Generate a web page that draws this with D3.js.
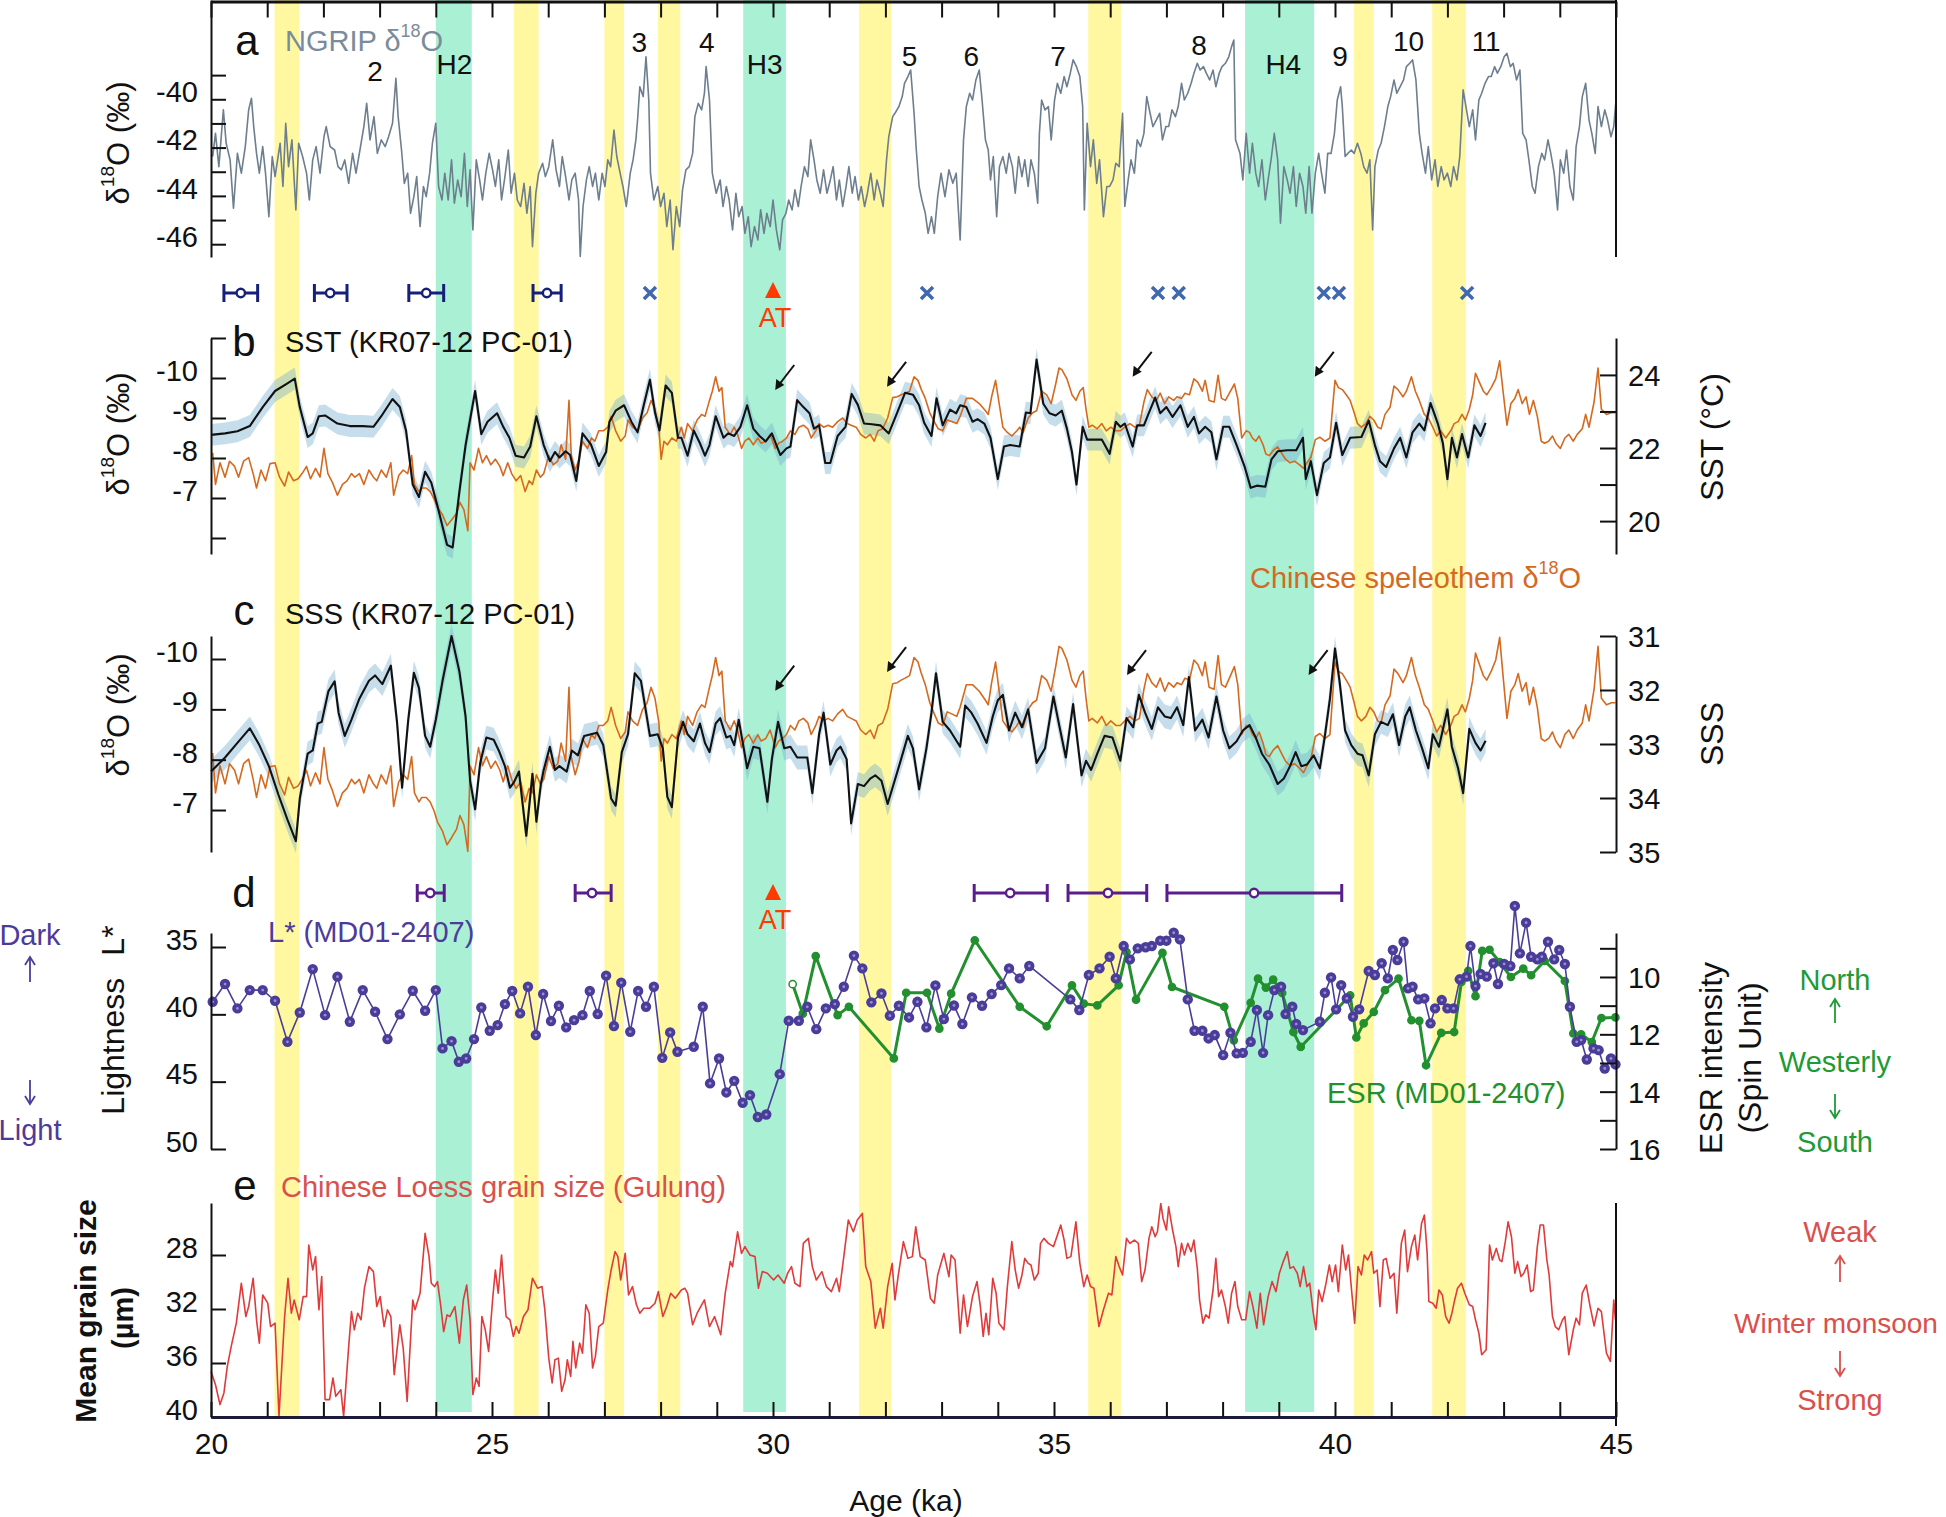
<!DOCTYPE html>
<html><head><meta charset="utf-8">
<script src="https://cdn.jsdelivr.net/npm/d3@7"></script>
<style>
body{margin:0;background:#fff;}
svg{display:block;font-family:"Liberation Sans",Arial,Helvetica,sans-serif;}
</style></head><body>
<svg id="chart" width="1946" height="1517"></svg>
<script>
// ---------------- DATA ----------------
const ageDomain = [20, 45];
const yellowBands = [[21.13,21.57],[25.39,25.83],[27.0,27.35],[27.95,28.35],[31.53,32.10],[35.61,36.19],[40.34,40.69],[41.73,42.33]];
const greenBands = [[24.0,24.64],[29.47,30.23],[38.40,39.63]];

// NGRIP d18O (permil)
const ngrip = [[20.03,-42.37],[20.08,-41.41],[20.14,-42.79],[20.22,-40.44],[20.27,-41.82],[20.34,-42.51],[20.40,-44.51],[20.47,-42.24],[20.54,-43.06],[20.61,-41.96],[20.67,-40.44],[20.72,-39.96],[20.76,-41.13],[20.81,-42.24],[20.86,-43.06],[20.92,-41.96],[20.97,-43.06],[21.03,-44.86],[21.09,-42.37],[21.14,-43.20],[21.23,-41.82],[21.28,-43.61],[21.33,-40.99],[21.38,-42.79],[21.44,-41.68],[21.51,-44.58],[21.56,-41.82],[21.63,-42.37],[21.70,-43.06],[21.75,-44.17],[21.81,-42.51],[21.87,-41.96],[21.94,-43.06],[22.01,-41.55],[22.05,-41.13],[22.12,-41.96],[22.20,-42.10],[22.26,-42.79],[22.32,-42.92],[22.38,-42.51],[22.45,-43.48],[22.52,-42.24],[22.58,-43.06],[22.65,-42.10],[22.72,-41.13],[22.77,-40.17],[22.83,-41.68],[22.90,-40.72],[22.96,-42.24],[23.03,-41.68],[23.10,-41.96],[23.16,-41.55],[23.23,-40.99],[23.29,-39.13],[23.33,-40.72],[23.39,-42.10],[23.44,-43.48],[23.50,-43.06],[23.55,-44.72],[23.61,-44.03],[23.66,-43.20],[23.72,-45.27],[23.78,-43.61],[23.83,-44.03],[23.89,-43.06],[23.94,-41.82],[24.00,-40.99],[24.05,-43.61],[24.11,-44.17],[24.16,-43.06],[24.22,-44.17],[24.28,-42.51],[24.33,-44.30],[24.39,-43.34],[24.45,-44.03],[24.51,-42.24],[24.56,-44.44],[24.61,-42.92],[24.66,-45.41],[24.72,-42.51],[24.78,-43.34],[24.83,-44.17],[24.89,-43.06],[24.95,-42.24],[25.01,-42.92],[25.06,-43.61],[25.12,-42.51],[25.17,-44.17],[25.23,-43.20],[25.29,-42.10],[25.34,-43.89],[25.40,-43.06],[25.45,-44.17],[25.51,-44.44],[25.57,-43.48],[25.62,-44.72],[25.68,-43.61],[25.72,-46.10],[25.78,-43.89],[25.83,-43.06],[25.90,-42.65],[25.95,-43.20],[26.01,-42.79],[26.08,-41.68],[26.14,-42.92],[26.20,-43.61],[26.25,-42.37],[26.31,-43.20],[26.37,-44.17],[26.42,-43.34],[26.48,-43.06],[26.54,-44.17],[26.57,-46.51],[26.62,-44.44],[26.68,-43.34],[26.73,-42.79],[26.79,-43.61],[26.84,-43.06],[26.90,-44.17],[26.96,-43.06],[27.01,-43.61],[27.06,-42.51],[27.11,-42.79],[27.17,-41.27],[27.22,-42.37],[27.28,-43.06],[27.33,-43.61],[27.39,-44.44],[27.46,-43.06],[27.51,-42.51],[27.56,-41.68],[27.59,-40.86],[27.63,-39.48],[27.69,-39.89],[27.74,-38.24],[27.79,-40.03],[27.82,-43.06],[27.88,-44.17],[27.95,-43.61],[28.00,-44.44],[28.06,-43.89],[28.11,-45.27],[28.17,-44.17],[28.22,-46.23],[28.28,-44.44],[28.34,-45.27],[28.39,-43.75],[28.45,-42.92],[28.51,-42.79],[28.57,-42.24],[28.61,-40.72],[28.67,-40.17],[28.73,-40.44],[28.78,-39.75],[28.81,-38.65],[28.87,-40.03],[28.92,-43.06],[28.99,-43.89],[29.06,-43.34],[29.11,-44.44],[29.17,-43.61],[29.22,-44.17],[29.28,-45.41],[29.34,-43.89],[29.39,-44.86],[29.45,-44.44],[29.50,-45.55],[29.56,-44.86],[29.61,-46.10],[29.67,-45.27],[29.73,-45.82],[29.78,-44.58],[29.84,-45.55],[29.89,-44.72],[29.95,-45.27],[30.00,-44.17],[30.06,-45.41],[30.12,-46.23],[30.17,-44.99],[30.23,-44.72],[30.28,-44.17],[30.34,-44.58],[30.39,-43.75],[30.45,-44.44],[30.50,-43.61],[30.56,-42.79],[30.62,-43.20],[30.67,-41.68],[30.73,-42.51],[30.78,-43.34],[30.84,-43.89],[30.90,-42.92],[30.96,-43.89],[31.02,-43.34],[31.07,-42.79],[31.13,-44.17],[31.18,-43.34],[31.24,-44.44],[31.30,-43.61],[31.35,-42.79],[31.41,-43.89],[31.46,-43.20],[31.52,-44.17],[31.57,-43.61],[31.63,-44.44],[31.68,-43.89],[31.74,-43.06],[31.80,-44.17],[31.85,-43.34],[31.91,-43.89],[31.96,-44.44],[32.02,-42.51],[32.06,-41.55],[32.13,-40.72],[32.17,-40.58],[32.24,-40.30],[32.30,-39.89],[32.34,-39.34],[32.40,-39.06],[32.45,-38.79],[32.51,-40.58],[32.55,-42.10],[32.60,-43.61],[32.65,-44.17],[32.71,-44.72],[32.76,-45.55],[32.82,-44.86],[32.87,-45.55],[32.93,-44.03],[32.99,-43.06],[33.06,-44.03],[33.13,-42.92],[33.20,-43.48],[33.26,-43.06],[33.33,-45.82],[33.39,-41.68],[33.44,-40.30],[33.50,-39.75],[33.55,-40.03],[33.61,-39.20],[33.67,-38.79],[33.72,-40.03],[33.78,-41.68],[33.83,-42.10],[33.87,-43.34],[33.92,-42.37],[33.98,-44.86],[34.03,-42.79],[34.09,-42.37],[34.15,-43.06],[34.20,-42.24],[34.26,-42.79],[34.31,-43.89],[34.37,-42.37],[34.43,-43.20],[34.48,-42.51],[34.54,-43.61],[34.59,-42.51],[34.65,-43.06],[34.71,-44.30],[34.74,-41.41],[34.78,-40.03],[34.84,-40.44],[34.90,-40.30],[34.95,-41.68],[35.01,-40.03],[35.06,-39.34],[35.12,-39.75],[35.18,-39.06],[35.23,-39.48],[35.29,-38.92],[35.34,-38.37],[35.40,-38.65],[35.46,-39.06],[35.51,-40.30],[35.54,-44.58],[35.59,-40.99],[35.65,-42.79],[35.70,-41.68],[35.76,-43.48],[35.81,-42.51],[35.88,-44.86],[35.94,-43.61],[35.99,-43.61],[36.05,-43.34],[36.10,-42.65],[36.16,-42.79],[36.22,-40.58],[36.26,-44.44],[36.32,-43.34],[36.37,-42.51],[36.43,-43.06],[36.48,-41.68],[36.54,-41.96],[36.60,-41.41],[36.65,-39.89],[36.71,-40.58],[36.76,-41.13],[36.82,-40.86],[36.88,-40.58],[36.93,-41.68],[36.99,-41.13],[37.04,-41.13],[37.10,-40.44],[37.16,-40.72],[37.21,-40.30],[37.27,-39.34],[37.32,-40.03],[37.38,-39.75],[37.44,-39.34],[37.49,-38.92],[37.55,-38.51],[37.60,-38.79],[37.66,-38.65],[37.71,-38.92],[37.77,-39.20],[37.83,-38.79],[37.88,-39.48],[37.94,-38.92],[37.99,-38.65],[38.05,-38.51],[38.11,-38.24],[38.16,-37.82],[38.20,-37.55],[38.23,-41.68],[38.31,-42.24],[38.36,-43.34],[38.42,-41.41],[38.48,-43.06],[38.53,-41.82],[38.59,-43.06],[38.64,-43.61],[38.70,-42.51],[38.76,-44.17],[38.81,-43.34],[38.87,-42.37],[38.92,-41.41],[38.98,-42.51],[39.03,-45.13],[39.09,-42.79],[39.15,-43.34],[39.20,-43.89],[39.26,-42.79],[39.31,-44.44],[39.37,-43.06],[39.43,-43.61],[39.48,-44.72],[39.54,-42.79],[39.59,-44.72],[39.65,-43.06],[39.71,-42.24],[39.76,-43.06],[39.82,-43.89],[39.87,-42.24],[39.93,-42.24],[39.99,-41.41],[40.04,-40.03],[40.10,-39.48],[40.13,-40.30],[40.18,-42.37],[40.23,-42.24],[40.29,-42.10],[40.34,-42.24],[40.40,-41.82],[40.46,-42.24],[40.51,-42.79],[40.57,-43.06],[40.62,-42.51],[40.67,-45.41],[40.71,-42.79],[40.77,-42.10],[40.82,-41.82],[40.88,-41.13],[40.94,-40.30],[40.99,-39.89],[41.05,-39.20],[41.10,-39.75],[41.16,-39.48],[41.22,-39.20],[41.27,-38.65],[41.33,-38.51],[41.38,-38.37],[41.44,-39.20],[41.50,-41.41],[41.55,-42.24],[41.61,-43.06],[41.66,-41.96],[41.72,-43.34],[41.78,-42.51],[41.83,-43.61],[41.89,-42.79],[41.94,-43.34],[42.00,-43.06],[42.06,-43.61],[42.11,-42.79],[42.17,-43.34],[42.22,-42.37],[42.28,-39.61],[42.33,-40.30],[42.39,-41.13],[42.45,-40.44],[42.50,-41.68],[42.56,-40.03],[42.61,-39.75],[42.67,-39.34],[42.73,-39.06],[42.78,-39.06],[42.84,-38.65],[42.89,-38.92],[42.95,-38.65],[43.01,-38.24],[43.06,-38.10],[43.12,-38.65],[43.17,-38.51],[43.23,-39.20],[43.29,-38.79],[43.34,-41.41],[43.40,-41.68],[43.45,-42.51],[43.51,-43.61],[43.56,-43.89],[43.62,-42.79],[43.68,-42.24],[43.73,-42.51],[43.79,-41.68],[43.84,-42.24],[43.90,-43.06],[43.96,-44.58],[44.01,-42.51],[44.07,-43.06],[44.12,-42.10],[44.18,-43.61],[44.24,-44.17],[44.29,-41.96],[44.35,-41.13],[44.40,-39.89],[44.46,-39.34],[44.52,-40.86],[44.57,-41.41],[44.63,-42.24],[44.68,-40.30],[44.74,-41.13],[44.80,-40.44],[44.85,-40.86],[44.91,-41.55],[44.96,-41.13],[45.00,-40.03]];

// Chinese speleothem d18O (permil)
const speleothem = [[20.03,-8.13],[20.08,-7.34],[20.16,-7.88],[20.25,-7.52],[20.33,-7.92],[20.42,-7.79],[20.49,-7.52],[20.58,-7.92],[20.67,-8.01],[20.75,-7.61],[20.81,-7.25],[20.89,-7.70],[20.97,-7.43],[21.05,-7.86],[21.14,-7.88],[21.22,-7.52],[21.31,-7.30],[21.38,-7.65],[21.47,-7.43],[21.55,-7.48],[21.62,-7.61],[21.70,-7.79],[21.77,-7.48],[21.86,-7.74],[21.94,-7.52],[22.01,-8.24],[22.08,-7.61],[22.16,-7.39],[22.25,-7.07],[22.34,-7.34],[22.42,-7.43],[22.50,-7.61],[22.56,-7.52],[22.64,-7.61],[22.72,-7.34],[22.81,-7.70],[22.89,-7.52],[22.95,-7.43],[23.03,-7.70],[23.12,-7.52],[23.20,-7.88],[23.25,-7.07],[23.34,-7.56],[23.42,-7.70],[23.50,-7.61],[23.57,-8.06],[23.62,-7.34],[23.70,-7.16],[23.75,-7.25],[23.83,-7.25],[23.90,-7.16],[23.97,-6.98],[24.03,-6.76],[24.12,-6.58],[24.20,-6.31],[24.28,-6.45],[24.37,-6.62],[24.43,-6.89],[24.50,-6.71],[24.57,-6.18],[24.61,-7.88],[24.68,-7.70],[24.76,-8.24],[24.83,-7.88],[24.90,-8.06],[24.98,-7.83],[25.06,-7.97],[25.14,-7.79],[25.20,-7.56],[25.28,-7.88],[25.35,-7.61],[25.43,-7.43],[25.51,-7.56],[25.59,-7.16],[25.66,-7.43],[25.72,-7.34],[25.79,-7.70],[25.86,-7.52],[25.92,-7.61],[26.01,-8.06],[26.09,-7.83],[26.17,-7.92],[26.23,-8.33],[26.31,-7.97],[26.37,-9.44],[26.41,-8.06],[26.48,-7.70],[26.55,-7.97],[26.61,-8.42],[26.70,-8.24],[26.77,-8.50],[26.83,-8.42],[26.90,-8.68],[26.98,-8.68],[27.06,-8.77],[27.12,-9.04],[27.20,-8.68],[27.29,-8.42],[27.37,-8.55],[27.42,-8.95],[27.50,-8.77],[27.59,-8.68],[27.68,-9.00],[27.76,-9.13],[27.83,-9.44],[27.90,-9.22],[27.97,-8.73],[28.01,-7.97],[28.06,-8.42],[28.12,-8.33],[28.20,-8.50],[28.28,-8.42],[28.37,-8.77],[28.42,-8.50],[28.48,-8.86],[28.57,-8.68],[28.65,-8.95],[28.73,-9.09],[28.79,-9.04],[28.87,-9.44],[28.92,-9.67],[28.98,-10.03],[29.04,-9.67],[29.09,-9.76],[29.15,-8.77],[29.24,-8.59],[29.31,-8.77],[29.37,-8.59],[29.44,-8.24],[29.50,-8.42],[29.57,-8.50],[29.65,-8.33],[29.73,-8.50],[29.79,-8.37],[29.87,-8.42],[29.95,-8.59],[30.04,-8.24],[30.10,-8.37],[30.17,-8.42],[30.24,-8.50],[30.31,-8.68],[30.39,-8.59],[30.46,-8.77],[30.54,-8.82],[30.62,-8.73],[30.68,-8.50],[30.76,-8.68],[30.82,-8.86],[30.90,-8.77],[30.98,-8.82],[31.06,-8.77],[31.15,-8.91],[31.24,-9.00],[31.32,-8.86],[31.39,-8.82],[31.48,-8.77],[31.56,-8.59],[31.65,-8.50],[31.73,-8.59],[31.80,-8.42],[31.87,-8.68],[31.95,-8.73],[32.04,-9.00],[32.13,-9.51],[32.21,-9.53],[32.28,-9.58],[32.35,-9.62],[32.43,-9.67],[32.51,-10.03],[32.58,-9.94],[32.64,-9.71],[32.71,-9.49],[32.79,-9.13],[32.87,-8.91],[32.94,-8.73],[33.02,-8.68],[33.10,-8.95],[33.18,-8.91],[33.27,-8.86],[33.33,-9.04],[33.44,-9.49],[33.55,-9.49],[33.67,-9.36],[33.78,-9.18],[33.83,-9.09],[33.89,-9.53],[33.96,-9.94],[34.02,-9.40],[34.09,-8.77],[34.17,-8.64],[34.25,-8.55],[34.34,-8.68],[34.39,-8.77],[34.45,-8.64],[34.54,-9.00],[34.62,-9.13],[34.69,-9.18],[34.78,-9.67],[34.87,-9.58],[34.95,-9.36],[35.03,-9.85],[35.09,-10.25],[35.14,-10.21],[35.23,-9.98],[35.32,-9.58],[35.39,-9.44],[35.46,-9.67],[35.52,-9.76],[35.57,-9.22],[35.62,-8.77],[35.68,-8.82],[35.77,-8.73],[35.85,-8.86],[35.93,-8.68],[36.01,-8.77],[36.10,-8.68],[36.18,-8.68],[36.26,-8.77],[36.35,-8.86],[36.44,-8.77],[36.52,-8.82],[36.60,-9.40],[36.66,-9.71],[36.74,-9.53],[36.82,-9.44],[36.89,-9.62],[36.97,-9.36],[37.04,-9.53],[37.13,-9.44],[37.19,-9.53],[37.27,-9.49],[37.33,-9.62],[37.41,-9.58],[37.49,-9.98],[37.56,-9.89],[37.64,-9.67],[37.69,-9.94],[37.76,-9.44],[37.85,-9.40],[37.92,-10.07],[37.98,-9.49],[38.05,-9.44],[38.14,-9.67],[38.21,-9.85],[38.27,-9.49],[38.34,-8.50],[38.42,-8.68],[38.48,-8.64],[38.53,-8.50],[38.59,-8.42],[38.65,-8.55],[38.72,-8.33],[38.77,-8.10],[38.83,-8.06],[38.90,-8.19],[38.98,-8.28],[39.06,-8.10],[39.12,-7.97],[39.20,-7.88],[39.28,-7.92],[39.37,-7.83],[39.44,-7.74],[39.50,-7.88],[39.57,-8.01],[39.65,-8.46],[39.73,-8.52],[39.82,-8.42],[39.91,-8.50],[40.00,-9.94],[40.06,-9.76],[40.13,-9.71],[40.20,-9.58],[40.27,-9.44],[40.33,-9.18],[40.40,-8.86],[40.47,-8.77],[40.55,-8.86],[40.62,-9.04],[40.69,-8.95],[40.76,-8.77],[40.82,-8.73],[40.89,-9.09],[40.98,-9.27],[41.05,-9.80],[41.12,-9.71],[41.21,-9.53],[41.27,-9.67],[41.36,-10.03],[41.43,-9.67],[41.50,-9.44],[41.59,-9.09],[41.66,-9.00],[41.74,-8.77],[41.81,-8.55],[41.88,-8.68],[41.97,-8.50],[42.06,-8.68],[42.12,-8.86],[42.19,-8.91],[42.26,-9.09],[42.32,-8.95],[42.39,-9.22],[42.45,-9.58],[42.50,-10.12],[42.57,-9.89],[42.64,-9.67],[42.70,-9.58],[42.78,-9.76],[42.86,-9.98],[42.93,-10.43],[42.99,-9.67],[43.06,-8.82],[43.13,-9.36],[43.20,-9.49],[43.26,-9.71],[43.33,-9.36],[43.40,-9.53],[43.46,-9.09],[43.53,-9.44],[43.60,-9.04],[43.67,-8.42],[43.73,-8.37],[43.80,-8.42],[43.87,-8.55],[43.93,-8.37],[44.01,-8.24],[44.09,-8.50],[44.16,-8.59],[44.24,-8.42],[44.31,-8.59],[44.40,-8.73],[44.46,-9.09],[44.52,-8.77],[44.61,-9.40],[44.68,-10.25],[44.74,-9.22],[44.83,-9.09],[44.92,-9.13],[44.99,-9.13]];

// SST KR07-12 PC-01 (degC)
const sst = [[20.00,22.36],[20.25,22.40],[20.47,22.46],[20.69,22.60],[20.92,23.12],[21.14,23.56],[21.36,23.77],[21.49,23.90],[21.58,23.12],[21.72,22.30],[21.81,22.40],[21.92,22.87],[22.03,22.89],[22.25,22.67],[22.47,22.60],[22.70,22.60],[22.89,22.58],[23.03,22.87],[23.23,23.34],[23.36,23.12],[23.47,22.48],[23.59,21.00],[23.70,20.66],[23.81,21.35],[23.92,21.05],[24.03,20.41],[24.20,19.35],[24.30,19.28],[24.42,20.81],[24.53,22.08],[24.70,23.56],[24.81,22.38],[24.92,22.72],[25.09,22.95],[25.20,22.58],[25.31,22.28],[25.42,21.79],[25.57,21.74],[25.68,22.04],[25.79,22.87],[25.92,22.08],[26.03,21.64],[26.12,21.89],[26.20,21.74],[26.31,21.91],[26.39,21.81],[26.50,21.10],[26.61,22.40],[26.76,22.10],[26.90,21.51],[27.03,21.89],[27.09,22.72],[27.20,23.02],[27.35,23.17],[27.48,22.72],[27.59,22.43],[27.70,23.17],[27.81,23.87],[27.90,22.97],[27.98,22.48],[28.09,23.71],[28.20,23.51],[28.31,22.28],[28.37,22.28],[28.48,21.79],[28.59,22.48],[28.70,22.13],[28.79,21.79],[28.87,22.08],[28.98,22.87],[29.12,22.28],[29.20,22.40],[29.31,22.33],[29.42,22.58],[29.54,23.17],[29.65,22.53],[29.76,22.33],[29.87,22.18],[29.98,22.40],[30.06,22.08],[30.13,21.81],[30.24,21.99],[30.31,22.04],[30.43,23.31],[30.54,23.12],[30.65,22.95],[30.73,22.53],[30.82,22.62],[30.93,21.59],[31.02,21.59],[31.15,22.33],[31.29,22.58],[31.40,23.48],[31.51,23.18],[31.62,22.67],[31.76,22.65],[31.91,22.62],[32.06,22.40],[32.21,22.97],[32.35,23.51],[32.49,23.46],[32.60,23.17],[32.69,22.69],[32.82,22.33],[32.91,23.36],[33.02,22.62],[33.15,23.05],[33.26,22.95],[33.33,23.17],[33.44,23.12],[33.55,22.72],[33.64,22.79],[33.76,22.67],[33.87,22.28],[34.00,21.15],[34.11,22.04],[34.22,22.08],[34.39,22.04],[34.50,22.97],[34.58,22.95],[34.69,24.42],[34.81,23.21],[34.92,22.95],[35.03,22.89],[35.14,23.02],[35.23,22.53],[35.32,21.89],[35.40,21.00],[35.51,22.58],[35.59,22.23],[35.73,22.23],[35.85,22.23],[35.99,21.84],[36.10,22.72],[36.18,22.58],[36.26,22.67],[36.40,22.04],[36.48,22.62],[36.60,22.62],[36.69,22.97],[36.80,23.38],[36.89,22.95],[37.00,23.12],[37.11,22.85],[37.25,23.17],[37.38,22.58],[37.49,22.85],[37.58,22.40],[37.69,22.58],[37.80,22.43],[37.89,21.69],[38.01,22.58],[38.12,22.58],[38.25,22.08],[38.39,21.50],[38.50,20.91],[38.61,20.97],[38.76,20.94],[38.87,21.69],[38.98,21.91],[39.15,21.94],[39.31,21.94],[39.43,22.28],[39.48,21.15],[39.57,21.64],[39.68,20.71],[39.80,21.59],[39.91,21.74],[40.02,22.69],[40.13,21.81],[40.27,22.28],[40.47,22.30],[40.60,22.75],[40.71,22.08],[40.80,21.64],[40.91,21.48],[41.05,21.99],[41.16,22.28],[41.27,21.74],[41.38,22.43],[41.50,22.67],[41.59,22.48],[41.70,23.23],[41.83,22.67],[41.92,22.13],[42.00,21.15],[42.08,22.28],[42.17,21.74],[42.26,22.38],[42.37,21.74],[42.48,22.62],[42.59,22.33],[42.68,22.69]];

// SSS KR07-12 PC-01
const sss = [[20.00,33.51],[20.25,33.25],[20.47,32.98],[20.69,32.71],[20.86,33.02],[21.03,33.41],[21.20,33.94],[21.36,34.40],[21.51,34.80],[21.58,34.01],[21.72,33.18],[21.81,33.12],[21.90,32.62],[21.97,32.59],[22.09,32.02],[22.20,31.84],[22.27,32.42],[22.38,32.85],[22.50,32.55],[22.64,32.16],[22.81,31.83],[22.92,31.73],[23.05,31.89],[23.20,31.55],[23.31,32.59],[23.40,33.81],[23.51,32.55],[23.61,31.68],[23.70,31.96],[23.81,32.85],[23.90,33.05],[24.00,32.55],[24.12,31.83],[24.28,31.00],[24.42,31.66],[24.53,32.49],[24.61,33.68],[24.70,34.21],[24.79,33.35],[24.90,32.88],[25.03,32.92],[25.12,33.12],[25.23,33.41],[25.32,33.81],[25.39,33.71],[25.48,33.51],[25.61,34.70],[25.72,33.55],[25.79,34.44],[25.87,33.74],[25.92,33.48],[26.03,33.05],[26.12,33.48],[26.20,33.41],[26.33,33.51],[26.42,33.12],[26.53,33.21],[26.64,32.85],[26.76,32.82],[26.87,32.79],[26.98,33.02],[27.12,34.01],[27.20,34.14],[27.31,33.15],[27.42,32.82],[27.54,31.69],[27.65,31.83],[27.81,32.85],[27.95,32.82],[28.04,33.08],[28.12,33.98],[28.20,34.17],[28.31,32.88],[28.40,32.59],[28.48,32.82],[28.59,32.95],[28.70,32.62],[28.79,32.98],[28.87,33.15],[28.98,32.62],[29.06,32.52],[29.17,32.88],[29.24,32.85],[29.31,33.02],[29.39,32.55],[29.48,33.08],[29.54,33.45],[29.65,33.05],[29.76,33.08],[29.90,34.07],[29.98,33.28],[30.09,32.59],[30.20,33.08],[30.31,33.05],[30.43,33.25],[30.54,33.25],[30.61,33.25],[30.70,33.91],[30.82,32.82],[30.90,32.42],[31.02,33.38],[31.13,33.12],[31.20,33.05],[31.31,33.28],[31.39,34.47],[31.51,33.74],[31.62,33.78],[31.73,33.64],[31.82,33.58],[31.93,33.68],[32.04,34.11],[32.26,33.35],[32.40,32.85],[32.49,33.08],[32.60,33.84],[32.73,33.08],[32.82,32.42],[32.90,31.69],[33.02,32.59],[33.15,32.75],[33.33,33.05],[33.42,32.29],[33.53,32.42],[33.64,32.62],[33.80,32.98],[33.91,32.49],[34.00,32.19],[34.09,32.09],[34.20,32.75],[34.31,32.42],[34.43,32.69],[34.54,32.36],[34.69,33.35],[34.84,33.08],[34.99,32.12],[35.10,32.69],[35.21,33.25],[35.34,32.26],[35.49,33.58],[35.57,33.31],[35.66,33.48],[35.77,33.18],[35.90,32.85],[36.04,32.88],[36.18,33.31],[36.29,32.52],[36.41,32.69],[36.51,32.09],[36.62,32.42],[36.74,32.72],[36.85,32.32],[36.97,32.49],[37.08,32.52],[37.19,32.32],[37.30,32.65],[37.40,31.76],[37.51,32.75],[37.64,32.55],[37.75,32.88],[37.89,32.12],[38.01,32.75],[38.12,33.08],[38.25,32.95],[38.36,32.75],[38.48,32.65],[38.59,32.88],[38.70,33.18],[38.83,33.38],[38.98,33.74],[39.09,33.64],[39.20,33.41],[39.30,33.15],[39.40,33.41],[39.50,33.38],[39.62,33.21],[39.73,33.45],[39.82,32.85],[39.91,32.16],[40.00,31.23],[40.08,31.83],[40.18,32.75],[40.29,33.02],[40.40,33.18],[40.49,33.21],[40.60,33.58],[40.71,32.82],[40.82,32.59],[40.94,32.65],[41.03,32.45],[41.14,33.02],[41.25,32.49],[41.33,32.32],[41.44,32.75],[41.55,33.08],[41.66,33.45],[41.74,32.82],[41.85,33.05],[42.00,32.36],[42.08,33.05],[42.19,33.45],[42.28,33.91],[42.39,32.72],[42.50,32.98],[42.59,33.12],[42.68,32.94]];
const sstErr = 0.3;
const sssErr = 0.22;

// L* MD01-2407
const lstar = [[20.03,39.07],[20.25,37.75],[20.47,39.56],[20.69,38.2],[20.92,38.2],[21.14,38.99],[21.36,42.04],[21.58,39.86],[21.81,36.64],[22.03,40.06],[22.25,37.2],[22.47,40.55],[22.70,38.2],[22.92,39.81],[23.14,41.84],[23.36,40.0],[23.59,38.25],[23.81,39.73],[24.0,38.2],[24.12,42.53],[24.28,41.99],[24.41,43.52],[24.54,43.28],[24.68,41.84],[24.81,39.49],[24.96,41.22],[25.10,40.8],[25.23,39.24],[25.36,38.27],[25.50,39.93],[25.64,37.95],[25.78,41.54],[25.91,38.49],[26.05,40.5],[26.19,39.36],[26.32,40.97],[26.46,40.43],[26.61,40.06],[26.74,38.27],[26.88,39.98],[27.03,37.13],[27.17,40.87],[27.30,37.65],[27.46,41.29],[27.60,38.27],[27.74,39.44],[27.88,37.95],[28.03,43.23],[28.17,41.34],[28.30,42.78],[28.59,42.41],[28.75,39.44],[28.88,45.13],[29.04,43.28],[29.17,45.8],[29.31,44.94],[29.46,46.57],[29.59,46.0],[29.73,47.62],[29.88,47.44],[30.12,44.44],[30.28,40.48],[30.46,40.48],[30.61,39.44],[30.77,41.1],[30.94,39.56],[31.10,39.24],[31.26,37.95],[31.44,35.64],[31.59,36.59],[31.75,39.11],[31.93,38.45],[32.08,40.1],[32.24,39.36],[32.42,40.23],[32.57,39.07],[32.73,40.97],[32.89,37.85],[33.04,40.35],[33.22,39.34],[33.37,40.72],[33.54,38.74],[33.72,39.36],[33.89,38.49],[34.06,37.83],[34.20,36.59],[34.39,37.33],[34.56,36.41],[35.29,38.89],[35.45,39.68],[35.62,37.08],[35.81,36.59],[35.99,35.72],[36.10,37.33],[36.24,34.93],[36.35,35.92],[36.49,35.1],[36.63,35.02],[36.74,34.93],[36.89,34.53],[37.00,34.53],[37.13,33.94],[37.24,34.43],[37.38,38.89],[37.50,41.22],[37.64,41.22],[37.75,41.79],[37.86,41.54],[38.01,43.03],[38.14,41.37],[38.25,42.9],[38.36,42.86],[38.50,42.04],[38.61,39.68],[38.72,42.86],[38.81,40.06],[38.92,38.2],[39.04,37.95],[39.12,39.98],[39.24,39.44],[39.31,40.72],[39.43,41.17],[39.73,40.55],[39.82,38.4],[39.93,37.26],[40.02,39.63],[40.11,37.83],[40.21,38.82],[40.32,40.18],[40.43,39.63],[40.60,36.78],[40.71,37.08],[40.83,36.21],[40.94,37.33],[41.03,35.22],[41.11,35.97],[41.22,34.61],[41.30,38.07],[41.38,37.95],[41.48,38.89],[41.59,38.82],[41.70,40.67],[41.78,39.56],[41.90,38.94],[42.00,39.56],[42.11,39.56],[42.22,37.4],[42.34,37.2],[42.41,34.93],[42.50,37.9],[42.59,37.0],[42.70,37.2],[42.82,36.21],[42.90,37.75],[43.01,36.26],[43.12,36.41],[43.20,31.95],[43.29,35.47],[43.40,33.19],[43.49,35.72],[43.60,35.92],[43.68,35.72],[43.79,34.61],[43.90,35.92],[43.99,35.22],[44.09,36.26],[44.18,39.44],[44.30,42.04],[44.38,41.91],[44.48,43.35],[44.60,42.53],[44.69,42.66],[44.80,44.02],[44.91,43.28],[44.99,43.72]];

// ESR intensity MD01-2407 (spin unit)
const esr = [[30.35,10.25],[30.53,11.28],[30.76,9.27],[31.15,11.33],[31.35,11.04],[32.15,12.84],[32.37,10.55],[32.74,10.55],[32.96,11.8],[33.17,10.58],[33.59,8.72],[34.39,11.04],[34.87,11.72],[35.32,10.29],[35.53,10.93],[35.77,10.99],[36.15,10.29],[36.29,9.13],[36.46,10.79],[36.93,9.16],[37.10,10.35],[38.03,11.04],[38.20,12.21],[38.50,10.9],[38.63,10.06],[38.77,10.37],[38.90,10.09],[39.06,10.56],[39.26,11.92],[39.39,12.44],[40.27,10.64],[40.38,12.11],[40.51,11.62],[40.69,11.22],[40.89,10.46],[41.13,10.06],[41.36,11.51],[41.50,11.53],[41.62,13.08],[41.89,11.95],[42.12,11.92],[42.25,10.17],[42.37,9.79],[42.50,10.67],[42.62,9.09],[42.75,9.05],[42.93,9.48],[43.13,10.0],[43.35,9.71],[43.49,9.94],[43.73,9.44],[44.09,10.14],[44.24,11.97],[44.38,12.0],[44.57,12.27],[44.74,11.43],[44.99,11.41]];

// Loess mean grain size, Gulang (um)
const grain = [[20.00,36.62],[20.08,37.61],[20.16,39.08],[20.23,38.22],[20.29,36.25],[20.36,34.77],[20.45,33.05],[20.54,30.09],[20.62,32.56],[20.67,31.82],[20.75,29.72],[20.81,32.80],[20.86,34.53],[20.92,30.96],[21.01,31.57],[21.06,33.30],[21.14,33.05],[21.21,39.95],[21.31,32.56],[21.37,29.72],[21.43,32.31],[21.48,31.33],[21.57,32.80],[21.64,31.08],[21.70,31.08],[21.74,27.26],[21.81,29.11],[21.86,28.12],[21.92,32.06],[21.97,29.60],[22.03,38.71],[22.11,38.71],[22.17,37.11],[22.22,38.47],[22.31,37.98],[22.36,39.95],[22.45,34.77],[22.50,32.19],[22.55,33.54],[22.61,32.31],[22.67,32.80],[22.73,30.46],[22.81,28.86],[22.89,29.23],[22.95,31.82],[23.01,31.08],[23.08,33.30],[23.14,32.06],[23.20,32.56],[23.26,36.87],[23.36,33.17],[23.42,34.90],[23.49,38.84],[23.53,35.76],[23.59,31.33],[23.63,32.06],[23.72,30.83],[23.81,26.40],[23.88,28.12],[23.92,30.09],[23.98,30.34],[24.03,29.97],[24.09,31.82],[24.14,33.67],[24.20,32.43],[24.25,32.56],[24.34,31.82],[24.42,34.53],[24.49,31.33],[24.55,30.22],[24.61,32.80],[24.66,38.34],[24.72,37.11],[24.77,37.73],[24.82,32.56],[24.88,33.54],[24.94,35.14],[25.01,31.33],[25.06,29.11],[25.11,30.83],[25.17,28.00],[25.25,32.56],[25.32,32.80],[25.38,34.03],[25.43,33.30],[25.48,33.79],[25.56,32.56],[25.64,32.06],[25.72,29.72],[25.81,30.46],[25.89,30.34],[25.94,32.06],[26.01,35.64],[26.07,37.48],[26.12,35.76],[26.18,35.64],[26.24,38.10],[26.30,37.24],[26.34,35.76],[26.40,36.99],[26.44,34.40],[26.49,36.37],[26.56,34.53],[26.61,35.27],[26.67,31.69],[26.73,32.31],[26.79,36.37],[26.84,35.51],[26.90,33.30],[26.98,33.05],[27.06,30.59],[27.12,29.11],[27.19,27.75],[27.24,28.12],[27.29,29.85],[27.37,27.88],[27.43,30.96],[27.50,30.34],[27.57,31.69],[27.63,32.31],[27.70,31.94],[27.81,31.94],[27.90,31.57],[27.96,30.71],[28.04,32.56],[28.11,31.82],[28.18,30.83],[28.26,31.20],[28.37,30.59],[28.43,30.46],[28.48,30.83],[28.57,33.17],[28.65,32.31],[28.78,31.33],[28.87,33.30],[28.96,32.56],[29.07,33.91],[29.15,30.83],[29.24,28.49],[29.28,28.86],[29.37,26.28],[29.44,27.88],[29.50,27.38],[29.59,28.00],[29.68,28.12],[29.74,30.46],[29.81,29.23],[29.90,29.35],[30.01,29.85],[30.09,29.48],[30.20,30.09],[30.26,29.35],[30.33,28.86],[30.39,30.09],[30.48,30.34],[30.54,27.14],[30.63,26.77],[30.70,28.86],[30.77,29.85],[30.87,29.23],[30.95,30.34],[31.04,30.71],[31.13,29.72],[31.18,30.71],[31.26,28.12],[31.34,25.41],[31.43,26.28],[31.50,25.41],[31.59,24.92],[31.65,28.86],[31.74,29.97],[31.82,33.42],[31.91,31.94],[31.96,33.42],[32.04,30.34],[32.12,28.62],[32.17,31.33],[32.23,29.48],[32.32,27.01],[32.40,28.25],[32.48,28.12],[32.54,25.91],[32.62,28.12],[32.71,28.37],[32.80,31.20],[32.87,31.57],[32.93,29.48],[33.04,27.88],[33.13,29.60],[33.17,28.00],[33.24,28.37],[33.33,33.79],[33.39,30.96],[33.46,33.30],[33.55,31.08],[33.63,29.97],[33.69,31.82],[33.74,34.03],[33.79,32.31],[33.84,33.91],[33.91,29.72],[33.97,30.83],[34.02,33.05],[34.11,33.54],[34.17,30.34],[34.25,27.01],[34.31,29.11],[34.37,30.46],[34.43,29.48],[34.48,28.25],[34.54,28.62],[34.59,28.74],[34.65,29.85],[34.72,29.35],[34.76,27.14],[34.82,26.77],[34.90,27.14],[34.99,27.38],[35.04,26.77],[35.12,25.78],[35.18,26.89],[35.23,28.25],[35.30,28.12],[35.39,25.54],[35.46,28.62],[35.53,30.34],[35.59,29.48],[35.65,30.34],[35.71,30.46],[35.80,33.30],[35.88,32.06],[35.97,30.83],[36.03,30.96],[36.10,28.12],[36.16,28.86],[36.22,29.48],[36.29,26.77],[36.35,27.14],[36.43,26.89],[36.50,27.14],[36.56,29.97],[36.62,29.11],[36.69,26.77],[36.74,25.91],[36.80,26.65],[36.84,26.28],[36.90,24.18],[36.94,25.29],[37.00,26.15],[37.04,24.43],[37.11,26.15],[37.17,27.38],[37.21,28.86],[37.27,27.14],[37.32,28.00],[37.38,27.14],[37.44,27.75],[37.49,26.89],[37.55,28.99],[37.59,31.33],[37.65,33.05],[37.70,32.43],[37.76,32.68],[37.83,30.59],[37.88,28.25],[37.93,31.08],[37.98,30.59],[38.05,31.82],[38.10,33.05],[38.16,30.83],[38.22,29.97],[38.27,31.82],[38.34,32.80],[38.41,32.80],[38.48,30.71],[38.54,31.82],[38.61,33.42],[38.67,30.83],[38.73,33.17],[38.81,31.08],[38.88,29.97],[38.95,30.71],[39.01,29.35],[39.08,28.49],[39.15,27.75],[39.20,28.99],[39.26,28.86],[39.33,29.35],[39.38,30.34],[39.44,28.86],[39.50,30.34],[39.55,30.09],[39.61,32.19],[39.66,33.54],[39.71,30.59],[39.77,31.45],[39.84,30.09],[39.90,28.74],[39.95,29.97],[40.01,28.74],[40.06,30.71],[40.13,27.26],[40.19,29.11],[40.24,28.00],[40.30,30.83],[40.35,33.05],[40.41,28.86],[40.47,29.48],[40.52,28.00],[40.58,28.37],[40.65,27.75],[40.69,29.35],[40.75,29.11],[40.80,31.82],[40.86,28.37],[40.91,28.25],[40.98,29.72],[41.05,29.35],[41.10,32.31],[41.18,27.14],[41.24,26.15],[41.29,29.23],[41.36,27.38],[41.42,26.52],[41.47,28.37],[41.54,25.66],[41.59,25.04],[41.64,27.88],[41.67,31.45],[41.74,31.57],[41.80,31.94],[41.85,30.59],[41.91,30.96],[41.97,32.56],[42.03,33.05],[42.08,32.31],[42.13,31.33],[42.18,30.46],[42.25,30.09],[42.31,30.83],[42.39,31.69],[42.45,31.82],[42.50,32.80],[42.56,33.79],[42.61,35.39],[42.69,35.02],[42.75,27.26],[42.80,28.37],[42.87,27.51],[42.93,28.37],[42.97,28.49],[43.03,27.01],[43.08,25.54],[43.14,26.65],[43.20,29.35],[43.25,28.49],[43.31,29.60],[43.36,29.35],[43.42,28.74],[43.48,30.71],[43.53,30.59],[43.60,27.38],[43.65,25.78],[43.71,25.78],[43.77,28.37],[43.81,29.48],[43.87,32.56],[43.92,33.30],[43.98,33.54],[44.05,32.80],[44.09,32.56],[44.16,35.39],[44.24,33.54],[44.29,32.68],[44.35,33.17],[44.40,30.83],[44.47,30.22],[44.54,31.82],[44.61,33.25],[44.68,31.94],[44.74,32.19],[44.83,35.27],[44.90,35.88],[44.96,31.33],[44.99,32.80]];

// annotations
const eventLabels = [{t:'2',age:22.92,v:-38.83},{t:'H2',age:24.33,v:-38.58},{t:'3',age:27.62,v:-37.67},{t:'4',age:28.82,v:-37.67},{t:'H3',age:29.85,v:-38.58},{t:'5',age:32.43,v:-38.21},{t:'6',age:33.53,v:-38.21},{t:'7',age:35.07,v:-38.21},{t:'8',age:37.58,v:-37.79},{t:'H4',age:39.08,v:-38.58},{t:'9',age:40.09,v:-38.21},{t:'10',age:41.31,v:-37.59},{t:'11',age:42.69,v:-37.59}];
const datesA = [{age:20.53,lo:20.23,hi:20.83},{age:22.12,lo:21.84,hi:22.42},{age:23.83,lo:23.52,hi:24.14},{age:25.98,lo:25.73,hi:26.23}];
const crossesA = [27.81,32.74,36.85,37.22,39.80,40.07,42.35];
const tephraAge = 30.0;
const datesD = [{age:23.90,lo:23.67,hi:24.15},{age:26.78,lo:26.48,hi:27.12},{age:34.22,lo:33.58,hi:34.88},{age:35.96,lo:35.25,hi:36.65},{age:38.56,lo:37.01,hi:40.12}];
const arrowsB = [[30.04,-9.70],[32.03,-9.78],[36.40,-10.03],[39.64,-10.03]];
const arrowsC = [[30.04,-9.37],[32.03,-9.74],[36.30,-9.68],[39.53,-9.68]];
const ageTickValues = d3.range(20, 46, 1);
const ageLabelValues = [20,25,30,35,40,45];

// ---------------- CHART ----------------
const svg = d3.select('#chart');
const C = {yellow:'#fff8a0', green:'#a9f0d4', ngrip:'#6d7e8f', orange:'#d4691f', band:'rgba(120,175,210,0.42)',
  lstar:'#4a3d9a', esr:'#23902f', grain:'#e03a3a', redTxt:'#d9504c', greenTxt:'#1f9a36', purpTxt:'#4d3b9b'};

const x = d3.scaleLinear().domain(ageDomain).range([211,1616]);
const yA = d3.scaleLinear().domain([-35.89,-46.53]).range([0,257]);
const yBL = d3.scaleLinear().domain([-11,-5.6]).range([338,554]);
const yBR = d3.scaleLinear().domain([25.01,19.10]).range([338,554]);
const yCL = d3.scaleLinear().domain([-10.457,-6.166]).range([636,852]);
const yCR = d3.scaleLinear().domain([31,35]).range([636,852]);
const yDL = d3.scaleLinear().domain([33.96,50]).range([933,1149]);
const yDR = d3.scaleLinear().domain([8.466,16]).range([933,1149]);
const yE = d3.scaleLinear().domain([24.148,40]).range([1203,1417]);

// shaded event bands
const gb = svg.append('g');
yellowBands.forEach(b=>gb.append('rect').attr('x',x(b[0])).attr('width',x(b[1])-x(b[0])).attr('y',0).attr('height',1417).attr('fill',C.yellow));
greenBands.forEach(b=>gb.append('rect').attr('x',x(b[0])).attr('width',x(b[1])-x(b[0])).attr('y',0).attr('height',1412).attr('fill',C.green));

function line(ys){ return d3.line().x(d=>x(d[0])).y(d=>ys(d[1])); }
function drawPath(data, ys, color, w){
  svg.append('path').datum(data).attr('d', line(ys)).attr('fill','none').attr('stroke',color).attr('stroke-width',w).attr('stroke-linejoin','round');
}

// Panel a
drawPath(ngrip, yA, C.ngrip, 1.6);
// Panel b
svg.append('path').datum(sst).attr('fill',C.band).attr('d', d3.area().x(d=>x(d[0])).y0(d=>yBR(d[1]-sstErr)).y1(d=>yBR(d[1]+sstErr)));
drawPath(speleothem, yBL, C.orange, 1.6);
drawPath(sst, yBR, '#111', 2.1);
// Panel c
svg.append('path').datum(sss).attr('fill',C.band).attr('d', d3.area().x(d=>x(d[0])).y0(d=>yCR(d[1]-sssErr)).y1(d=>yCR(d[1]+sssErr)));
drawPath(speleothem, yCL, C.orange, 1.6);
drawPath(sss, yCR, '#111', 2.1);
// Panel d
drawPath(esr, yDR, C.esr, 3);
svg.append('g').selectAll('circle').data(esr).join('circle').attr('cx',d=>x(d[0])).attr('cy',d=>yDR(d[1])).attr('r',3.6)
  .attr('fill',(d,i)=>i===0?'#fff':C.esr).attr('stroke',C.esr).attr('stroke-width',1.5);
drawPath(lstar, yDL, C.lstar, 1.6);
const lg = svg.append('g');
lg.selectAll('circle.o').data(lstar).join('circle').attr('class','o').attr('cx',d=>x(d[0])).attr('cy',d=>yDL(d[1])).attr('r',5.2).attr('fill',C.lstar);
lg.selectAll('circle.i').data(lstar).join('circle').attr('class','i').attr('cx',d=>x(d[0])).attr('cy',d=>yDL(d[1])).attr('r',1.4).attr('fill','#9a90d0');
// Panel e
drawPath(grain, yE, C.grain, 1.6);

// ---------- axes ----------
const fs = 29;
function styleAxis(g){
  g.selectAll('path.domain').attr('stroke','#111').attr('stroke-width',2);
  g.selectAll('.tick line').attr('stroke','#111').attr('stroke-width',2);
  g.selectAll('.tick text').attr('font-size',fs).attr('fill','#111').attr('font-family','"Liberation Sans",Arial,sans-serif');
}
function leftAxis(ys, vals, fmtVals){
  const ax = d3.axisLeft(ys).tickValues(vals).tickSizeInner(-15).tickSizeOuter(0).tickPadding(13)
    .tickFormat(d=> fmtVals.includes(d) ? (d<0?'-'+Math.abs(d):String(d)) : '');
  const g = svg.append('g').attr('transform','translate(211,0)').call(ax);
  styleAxis(g);
  g.selectAll('.tick text').attr('dy','0.08em');
  return g;
}
function rightAxis(ys, vals, fmtVals){
  const ax = d3.axisRight(ys).tickValues(vals).tickSizeInner(-16).tickSizeOuter(0).tickPadding(12)
    .tickFormat(d=> fmtVals.includes(d) ? String(d) : '');
  const g = svg.append('g').attr('transform','translate(1616,0)').call(ax);
  styleAxis(g);
  g.selectAll('.tick text').attr('dy','0.36em');
  return g;
}
leftAxis(yA, [-39,-40,-41,-42,-43,-44,-45,-46], [-40,-42,-44,-46]);
svg.append('line').attr('x1',1616).attr('x2',1616).attr('y1',0).attr('y2',257).attr('stroke','#111').attr('stroke-width',2);
leftAxis(yBL, [-11,-10,-9,-8,-7,-6], [-10,-9,-8,-7]);
rightAxis(yBR, [24,23,22,21,20], [24,22,20]);
leftAxis(yCL, [-10,-9,-8,-7], [-10,-9,-8,-7]);
rightAxis(yCR, [31,32,33,34,35], [31,32,33,34,35]);
leftAxis(yDL, [35,40,45,50], [35,40,45,50]);
rightAxis(yDR, [9,10,11,12,13,14,15,16], [10,12,14,16]);
leftAxis(yE, [28,32,36,40], [28,32,36,40]);
svg.append('line').attr('x1',1616).attr('x2',1616).attr('y1',1203).attr('y2',1426).attr('stroke','#111').attr('stroke-width',2);

// top border with downward ticks
const topAx = d3.axisTop(x).tickValues(ageTickValues).tickSizeInner(-16).tickSizeOuter(0).tickFormat('');
const tg = svg.append('g').attr('transform','translate(0,1.5)').call(topAx);
styleAxis(tg);
tg.select('path.domain').attr('stroke-width',3);
// bottom axis with upward ticks
const botAx = d3.axisBottom(x).tickValues(ageTickValues).tickSizeInner(-15).tickSizeOuter(0).tickPadding(15)
  .tickFormat(d=> ageLabelValues.includes(d) ? String(d) : '');
const bg = svg.append('g').attr('transform','translate(0,1417)').call(botAx);
styleAxis(bg);
bg.select('path.domain').attr('stroke','#1c1c3a').attr('stroke-width',3);
bg.selectAll('.tick text').attr('font-size',30).attr('dy','0.72em');

// ---------- texts ----------
function txt(t, px, py, opt={}){
  const e = svg.append('text').attr('x',px).attr('y',py).attr('font-size',opt.size||29).attr('fill',opt.fill||'#111')
    .attr('text-anchor',opt.anchor||'start').attr('dominant-baseline','central');
  if(opt.weight) e.attr('font-weight',opt.weight);
  if(opt.rot) e.attr('transform',`rotate(-90,${px},${py})`);
  if(Array.isArray(t)){
    t.forEach(p=>{ const s=e.append('tspan').text(p.s); if(p.sup){ s.attr('font-size',(opt.size||29)*0.62).attr('baseline-shift','super'); } if(p.dx) s.attr('dx',p.dx); });
  } else e.text(t);
  return e;
}
const d18O = [{s:'δ'},{s:'18',sup:true},{s:'O (‰)'}];
// panel letters
txt('a',247,40,{size:42,anchor:'middle'});
txt('b',244,341,{size:42,anchor:'middle'});
txt('c',244,610,{size:42,anchor:'middle'});
txt('d',244,892,{size:42,anchor:'middle'});
txt('e',245,1185,{size:42,anchor:'middle'});
txt([{s:'NGRIP δ'},{s:'18',sup:true},{s:'O'}],285,41,{fill:'#7a8b9b'});
txt('SST (KR07-12 PC-01)',285,342,{});
txt('SSS (KR07-12 PC-01)',285,614,{});
txt('L* (MD01-2407)',268,932,{fill:C.purpTxt});
txt('Chinese Loess grain size (Gulung)',281,1187,{fill:C.redTxt});
txt([{s:'Chinese speleothem δ'},{s:'18',sup:true},{s:'O'}],1250,578,{fill:C.orange});
txt('ESR (MD01-2407)',1327,1093,{fill:C.esr});

// event labels in panel a
eventLabels.forEach(e=>txt(e.t, x(e.age), yA(e.v), {anchor:'middle',size:28}));

// axis titles
txt(d18O,118,143,{rot:true,anchor:'middle',size:31});
txt(d18O,118,434,{rot:true,anchor:'middle',size:31});
txt(d18O,118,715,{rot:true,anchor:'middle',size:31});
txt([{s:'Lightness'},{s:'L*',dx:22}],113,1020,{rot:true,anchor:'middle',size:32});
txt('Mean grain size',85,1311,{rot:true,anchor:'middle',size:30,weight:'bold'});
txt('(µm)',123,1318,{rot:true,anchor:'middle',size:29,weight:'bold'});
txt('SST (°C)',1712,437,{rot:true,anchor:'middle',size:32});
txt('SSS',1712,734,{rot:true,anchor:'middle',size:32});
txt('ESR intensity',1711,1058,{rot:true,anchor:'middle',size:32});
txt('(Spin Unit)',1750,1058,{rot:true,anchor:'middle',size:32});
txt('Age (ka)',906,1500,{anchor:'middle',size:30});

// side legends
function vArrow(cx, y1, y2, color){
  const dir = y2>y1 ? 1 : -1;
  svg.append('line').attr('x1',cx).attr('x2',cx).attr('y1',y1).attr('y2',y2).attr('stroke',color).attr('stroke-width',1.8);
  svg.append('path').attr('d',`M${cx-5},${y2-dir*8}L${cx},${y2}L${cx+5},${y2-dir*8}`).attr('fill','none').attr('stroke',color).attr('stroke-width',1.8);
}
txt('Dark',30,935,{anchor:'middle',fill:C.purpTxt});
vArrow(30,982,957,C.purpTxt);
vArrow(30,1080,1104,C.purpTxt);
txt('Light',30,1130,{anchor:'middle',fill:C.purpTxt});
txt('North',1835,980,{anchor:'middle',fill:C.greenTxt});
vArrow(1835,1023,999,C.greenTxt);
txt('Westerly',1835,1062,{anchor:'middle',fill:C.greenTxt});
vArrow(1835,1094,1118,C.greenTxt);
txt('South',1835,1142,{anchor:'middle',fill:C.greenTxt});
txt('Weak',1840,1232,{anchor:'middle',fill:C.redTxt});
vArrow(1840,1282,1256,C.redTxt);
txt('Winter monsoon',1836,1323,{anchor:'middle',fill:C.redTxt,size:28});
vArrow(1840,1351,1376,C.redTxt);
txt('Strong',1840,1400,{anchor:'middle',fill:C.redTxt});

// dating markers
function errBars(data, yy, color){
  const g = svg.append('g').attr('stroke',color).attr('stroke-width',3).attr('fill','#fff');
  data.forEach(d=>{
    g.append('line').attr('x1',x(d.lo)).attr('x2',x(d.hi)).attr('y1',yy).attr('y2',yy);
    g.append('line').attr('x1',x(d.lo)).attr('x2',x(d.lo)).attr('y1',yy-9).attr('y2',yy+9);
    g.append('line').attr('x1',x(d.hi)).attr('x2',x(d.hi)).attr('y1',yy-9).attr('y2',yy+9);
    g.append('circle').attr('cx',x(d.age)).attr('cy',yy).attr('r',4.2).attr('stroke-width',2.4);
  });
}
errBars(datesA, 293, '#16207a');
errBars(datesD, 893, '#5a1d8c');
const cg = svg.append('g').attr('stroke','#4068b0').attr('stroke-width',3.5);
crossesA.forEach(a=>{ const cx=x(a); cg.append('path').attr('d',`M${cx-6},${287}L${cx+6},${299}M${cx+6},${287}L${cx-6},${299}`); });
function tephra(yy){
  const cx = x(tephraAge);
  svg.append('path').attr('d',`M${cx},${yy-9}L${cx+8},${yy+7}L${cx-8},${yy+7}Z`).attr('fill','#ff3a00');
  txt('AT',cx+2,yy+27,{anchor:'middle',fill:'#ff3a00',size:27});
}
tephra(291);
tephra(893);

// arrows
function arrows(list, ys){
  list.forEach(a=>{
    const tx = x(a[0]), ty = ys(a[1]);
    svg.append('line').attr('x1',tx+2).attr('y1',ty-3).attr('x2',tx+19).attr('y2',ty-25).attr('stroke','#111').attr('stroke-width',2);
    svg.append('path').attr('d',`M${tx},${ty}L${tx+1},${ty-11}L${tx+9},${ty-5}Z`).attr('fill','#111');
  });
}
arrows(arrowsB, yBL);
arrows(arrowsC, yCL);
</script>
</body></html>
